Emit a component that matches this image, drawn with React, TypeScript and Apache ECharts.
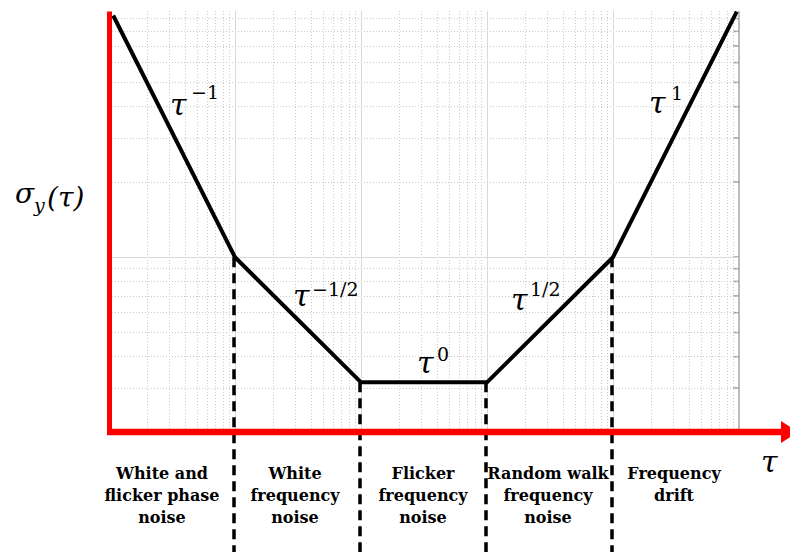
import React, { useEffect, useRef } from "react";
import * as echarts from "echarts";

// ---- data ----
const tauValues = [1.08, 10, 100, 1000, 10000, 96000];
const sigmaValues = [92.6, 10, 3.16, 3.16, 10, 96];
const breakpointTaus = [10, 100, 1000, 10000];

const xMajorGrid = [10, 100, 1000, 10000];
const xMinorGrid = [
  2, 3, 4, 5, 6, 7, 8, 9,
  20, 30, 40, 50, 60, 70, 80, 90,
  200, 300, 400, 500, 600, 700, 800, 900,
  2000, 3000, 4000, 5000, 6000, 7000, 8000, 9000,
  20000, 30000, 40000, 50000, 60000, 70000, 80000, 90000,
];
const yMajorGrid = [10];
const yMinorGrid = [3, 4, 5, 6, 7, 8, 9, 20, 30, 40, 50, 60, 70, 80, 90];
const xRightEdge = 100000;

const regionLabels = [
  "White and\nflicker phase\nnoise",
  "White\nfrequency\nnoise",
  "Flicker\nfrequency\nnoise",
  "Random walk\nfrequency\nnoise",
  "Frequency\ndrift",
];
const slopeBase = ["τ", "τ", "τ", "τ", "τ"];
const slopeExponents = ["−1", "−1/2", "0", "1/2", "1"];

// ---- layout (pixels) ----
const regionLabelX = [162, 295, 423, 548, 674];
const slopeBasePos = [
  [170, 104],
  [293, 295],
  [417, 362],
  [511, 299],
  [649, 102],
];
const slopeExpPos = [
  [191, 92],
  [312, 289],
  [437, 354],
  [530, 289],
  [671, 93],
];

export default function App() {
  const ref = useRef<HTMLDivElement>(null);

  useEffect(() => {
    const chart = echarts.init(ref.current!, null, { renderer: "svg" });
    const hiddenAxis = {
      axisLine: { show: false },
      axisTick: { show: false },
      axisLabel: { show: false },
      splitLine: { show: false },
      minorSplitLine: { show: false },
    };
    chart.setOption({
      animation: false,
      backgroundColor: "#ffffff",
      grid: { left: 109, right: 51, top: 11, bottom: 120 },
      xAxis: { type: "log", logBase: 10, min: 1, max: 100000, ...hiddenAxis },
      yAxis: { type: "log", logBase: 10, min: 2, max: 96.5, ...hiddenAxis },
      series: [
        {
          type: "line",
          data: [],
          z: 1,
          markLine: {
            silent: true,
            symbol: "none",
            animation: false,
            label: { show: false },
            lineStyle: { color: "#cacaca", width: 1, type: [1, 2] },
            data: [
              ...xMinorGrid.map((v) => ({ xAxis: v })),
              ...yMinorGrid.map((v) => ({ yAxis: v })),
            ],
          },
        },
        {
          type: "line",
          data: [],
          z: 2,
          markLine: {
            silent: true,
            symbol: "none",
            animation: false,
            label: { show: false },
            lineStyle: { color: "#d9d9d9", width: 1, type: "solid" },
            data: [
              ...xMajorGrid.map((v) => ({ xAxis: v })),
              ...yMajorGrid.map((v) => ({ yAxis: v })),
            ],
          },
        },
        {
          type: "line",
          data: [],
          z: 2,
          markLine: {
            silent: true,
            symbol: "none",
            animation: false,
            label: { show: false },
            lineStyle: { color: "#a6a6a6", width: 1.5, type: "solid" },
            data: [{ xAxis: xRightEdge }],
          },
        },
        {
          type: "line",
          data: tauValues.map((t, i) => [t, sigmaValues[i]]),
          symbol: "none",
          z: 10,
          lineStyle: { color: "#000000", width: 4, join: "miter" },
        },
      ],
    });

    const graphics: any[] = [];
    // dashed region separators
    breakpointTaus.forEach((t) => {
      const idx = tauValues.indexOf(t);
      const p = chart.convertToPixel({ gridIndex: 0 }, [t, sigmaValues[idx]]) as number[];
      graphics.push({
        type: "line",
        z: 5,
        shape: { x1: p[0] - 1, y1: p[1], x2: p[0] - 1, y2: 552 },
        style: { stroke: "#000000", lineWidth: 3.5, lineDash: [10, 6] },
      });
    });
    // small ticks on right border
    const rightX = (chart.convertToPixel({ gridIndex: 0 }, [xRightEdge, 10]) as number[])[0];
    [...yMinorGrid, ...yMajorGrid].forEach((v) => {
      const py = (chart.convertToPixel({ gridIndex: 0 }, [xRightEdge, v]) as number[])[1];
      graphics.push({
        type: "line",
        z: 4,
        shape: { x1: rightX - 6, y1: py, x2: rightX, y2: py },
        style: { stroke: yMajorGrid.includes(v) ? "#808080" : "#a0a0a0", lineWidth: 1.5 },
      });
    });
    // red axes
    graphics.push({
      type: "line",
      z: 20,
      shape: { x1: 109.5, y1: 11.5, x2: 109.5, y2: 435 },
      style: { stroke: "#ff0000", lineWidth: 5 },
    });
    graphics.push({
      type: "line",
      z: 20,
      shape: { x1: 107, y1: 432, x2: 786, y2: 432 },
      style: { stroke: "#ff0000", lineWidth: 6.5 },
    });
    graphics.push({
      type: "polygon",
      z: 20,
      shape: { points: [[781, 421], [798, 432], [781, 443]] },
      style: { fill: "#ff0000" },
    });
    // slope labels
    slopeBase.forEach((b, i) => {
      graphics.push({
        type: "text",
        z: 30,
        x: slopeBasePos[i][0],
        y: slopeBasePos[i][1],
        style: {
          text: b,
          fontFamily: "DejaVu Serif",
          fontStyle: "italic",
          fontSize: 30,
          fill: "#000",
          align: "left",
          verticalAlign: "middle",
        },
      });
      graphics.push({
        type: "text",
        z: 30,
        x: slopeExpPos[i][0],
        y: slopeExpPos[i][1],
        style: {
          text: slopeExponents[i],
          fontFamily: "DejaVu Serif",
          fontSize: 19,
          fill: "#000",
          align: "left",
          verticalAlign: "middle",
        },
      });
    });
    // axis titles
    graphics.push({
      type: "text",
      z: 30,
      x: 761,
      y: 461,
      style: { text: "τ", fontFamily: "DejaVu Serif", fontStyle: "italic", fontSize: 30, fill: "#000", align: "left", verticalAlign: "middle" },
    });
    graphics.push({
      type: "text",
      z: 30,
      x: 15,
      y: 193,
      style: { text: "σ", fontFamily: "DejaVu Serif", fontStyle: "italic", fontSize: 28, fill: "#000", align: "left", verticalAlign: "middle" },
    });
    graphics.push({
      type: "text",
      z: 30,
      x: 34,
      y: 205,
      style: { text: "y", fontFamily: "DejaVu Serif", fontStyle: "italic", fontSize: 19, fill: "#000", align: "left", verticalAlign: "middle" },
    });
    graphics.push({
      type: "text",
      z: 30,
      x: 47,
      y: 197,
      style: { text: "(τ)", fontFamily: "DejaVu Serif", fontStyle: "italic", fontSize: 28, fill: "#000", align: "left", verticalAlign: "middle" },
    });
    // region labels
    regionLabels.forEach((t, i) => {
      graphics.push({
        type: "text",
        z: 30,
        x: regionLabelX[i],
        y: 462.5,
        style: {
          text: t,
          fontFamily: "DejaVu Serif",
          fontWeight: "bold",
          fontSize: 16,
          lineHeight: 22,
          fill: "#000",
          align: "center",
          verticalAlign: "top",
        },
      });
    });

    chart.setOption({ graphic: { elements: graphics } });

    return () => chart.dispose();
  }, []);

  return (
    <div
      ref={ref}
      style={{ position: "absolute", left: 0, top: 0, width: 790, height: 552 }}
    />
  );
}
